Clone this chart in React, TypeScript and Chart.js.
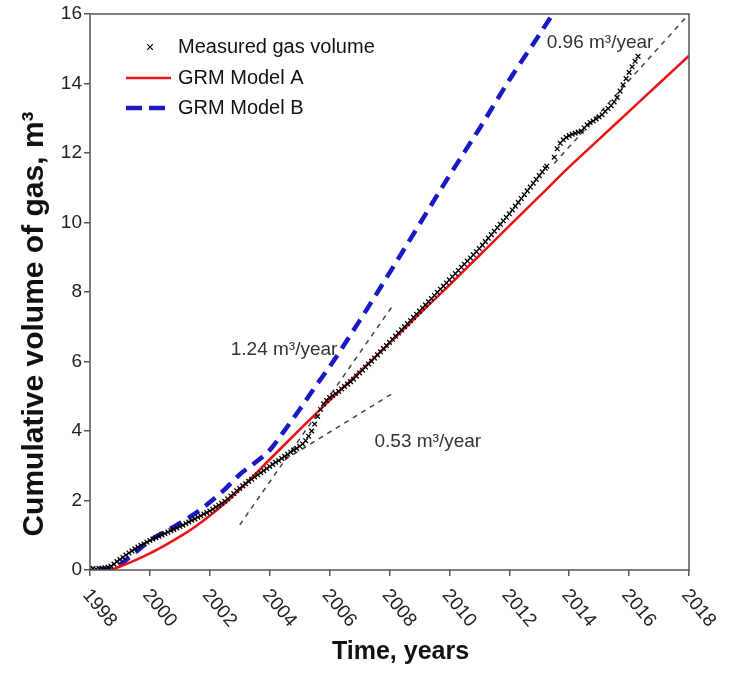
import { useEffect, useRef } from "react";
import { Chart, registerables } from "chart.js";

Chart.register(...registerables);

// ---------- data ----------
const measuredYears = [
  1998.0, 1998.1, 1998.2, 1998.3, 1998.4, 1998.5, 1998.6, 1998.7, 1998.8, 1998.9,
  1999.0, 1999.1, 1999.2, 1999.3, 1999.4, 1999.5, 1999.6, 1999.7, 1999.8, 1999.9,
  2000.0, 2000.1, 2000.2, 2000.3, 2000.4, 2000.5, 2000.6, 2000.7, 2000.8, 2000.9,
  2001.0, 2001.1, 2001.2, 2001.3, 2001.4, 2001.5, 2001.6, 2001.7, 2001.8, 2001.9,
  2002.0, 2002.1, 2002.2, 2002.3, 2002.4, 2002.5, 2002.6, 2002.7, 2002.8, 2002.9,
  2003.0, 2003.1, 2003.2, 2003.3, 2003.4, 2003.5, 2003.6, 2003.7, 2003.8, 2003.9,
  2004.0, 2004.1, 2004.2, 2004.3, 2004.4, 2004.5, 2004.6, 2004.7, 2004.8, 2004.9,
  2005.0, 2005.1, 2005.2, 2005.3, 2005.4, 2005.5, 2005.6, 2005.7, 2005.8, 2005.9,
  2006.0, 2006.1, 2006.2, 2006.3, 2006.4, 2006.5, 2006.6, 2006.7, 2006.8, 2006.9,
  2007.0, 2007.1, 2007.2, 2007.3, 2007.4, 2007.5, 2007.6, 2007.7, 2007.8, 2007.9,
  2008.0, 2008.1, 2008.2, 2008.3, 2008.4, 2008.5, 2008.6, 2008.7, 2008.8, 2008.9,
  2009.0, 2009.1, 2009.2, 2009.3, 2009.4, 2009.5, 2009.6, 2009.7, 2009.8, 2009.9,
  2010.0, 2010.1, 2010.2, 2010.3, 2010.4, 2010.5, 2010.6, 2010.7, 2010.8, 2010.9,
  2011.0, 2011.1, 2011.2, 2011.3, 2011.4, 2011.5, 2011.6, 2011.7, 2011.8, 2011.9,
  2012.0, 2012.1, 2012.2, 2012.3, 2012.4, 2012.5, 2012.6, 2012.7, 2012.8, 2012.9,
  2013.0, 2013.1, 2013.2, 2013.25,
  2013.5, 2013.6, 2013.7, 2013.8, 2013.9,
  2014.0, 2014.1, 2014.2, 2014.3, 2014.4, 2014.5, 2014.6, 2014.7, 2014.8, 2014.9,
  2015.0, 2015.1, 2015.2, 2015.3, 2015.4, 2015.5, 2015.6, 2015.7, 2015.8, 2015.9,
  2016.0, 2016.1, 2016.2, 2016.3,
];
const measuredVolume = [
  0.03, 0.04, 0.03, 0.05, 0.05, 0.06, 0.08, 0.11, 0.17, 0.24,
  0.30, 0.36, 0.43, 0.49, 0.55, 0.61, 0.66, 0.71, 0.75, 0.80,
  0.85, 0.89, 0.93, 0.97, 1.01, 1.05, 1.09, 1.13, 1.17, 1.21,
  1.25, 1.29, 1.34, 1.38, 1.43, 1.47, 1.52, 1.56, 1.61, 1.65,
  1.70, 1.75, 1.81, 1.86, 1.92, 1.98, 2.05, 2.13, 2.20, 2.28,
  2.35, 2.42, 2.48, 2.55, 2.61, 2.68, 2.74, 2.80, 2.86, 2.92,
  2.98, 3.04, 3.10, 3.15, 3.21, 3.27, 3.33, 3.39, 3.45, 3.50,
  3.56, 3.63, 3.72, 3.85, 4.00, 4.20, 4.42, 4.62, 4.78, 4.88,
  4.96, 5.02, 5.08, 5.14, 5.21, 5.28, 5.35, 5.42, 5.49, 5.58,
  5.67, 5.75, 5.84, 5.93, 6.01, 6.10, 6.19, 6.28, 6.37, 6.46,
  6.55, 6.64, 6.73, 6.82, 6.91, 7.00, 7.09, 7.18, 7.27, 7.36,
  7.45, 7.54, 7.63, 7.72, 7.81, 7.90, 7.99, 8.08, 8.17, 8.26,
  8.35, 8.44, 8.53, 8.62, 8.71, 8.80, 8.89, 8.98, 9.07, 9.16,
  9.25, 9.35, 9.45, 9.55, 9.65, 9.75, 9.85, 9.95, 10.05, 10.15,
  10.25, 10.36, 10.47, 10.58, 10.69, 10.80, 10.91, 11.02, 11.13, 11.24,
  11.35, 11.46, 11.56, 11.62,
  11.88, 12.12, 12.28, 12.38, 12.45,
  12.50, 12.54, 12.57, 12.60, 12.63, 12.72, 12.81, 12.88, 12.92, 12.98,
  13.04, 13.10, 13.20, 13.28, 13.36, 13.47, 13.60, 13.78, 13.96, 14.14,
  14.32, 14.48, 14.64, 14.78,
];

const modelAYears = [
  1998.7, 1999.0, 1999.5, 2000.0, 2000.5, 2001.0, 2001.5, 2002.0, 2002.5, 2003.0,
  2004.0, 2005.0, 2006.0, 2007.0, 2008.0, 2009.0, 2010.0, 2011.0, 2012.0, 2013.0,
  2014.0, 2015.0, 2016.0, 2017.0, 2018.0,
];
const modelAVolume = [
  0.0, 0.1, 0.28, 0.48, 0.71, 0.96, 1.24, 1.56, 1.92, 2.32,
  3.18, 4.04, 4.88, 5.7, 6.53, 7.37, 8.2, 9.05, 9.9, 10.75,
  11.6, 12.4, 13.2, 14.0, 14.8,
];

const modelBYears = [
  1998.3, 1998.8, 1999.0, 1999.5, 2000.0, 2000.5, 2001.0, 2001.5, 2002.0, 2002.5,
  2003.0, 2003.5, 2004.0, 2004.5, 2005.0, 2005.5, 2006.0, 2007.0, 2008.0, 2009.0,
  2010.0, 2011.0, 2012.0, 2013.0, 2013.6,
];
const modelBVolume = [
  0.0, 0.05, 0.15, 0.5, 0.85, 1.1, 1.35, 1.62, 1.95, 2.32,
  2.75, 3.08, 3.45, 4.02, 4.62, 5.25, 5.85, 7.17, 8.55, 9.95,
  11.35, 12.7, 14.1, 15.4, 16.2,
];

const trend124Years = [2003.0, 2008.1];
const trend124Volume = [1.3, 7.6];
const trend053Years = [2004.5, 2008.1];
const trend053Volume = [3.17, 5.08];
const trend096Years = [2013.5, 2018.0];
const trend096Volume = [11.7, 16.0];

const legendLabels = ["Measured gas volume", "GRM Model A", "GRM Model B"];
const rateLabels = ["1.24 m³/year", "0.53 m³/year", "0.96 m³/year"];
const rateLabelYears = [2002.7, 2007.5, 2013.25];
const rateLabelVolumes = [6.33, 3.69, 15.16];

const xTitle = "Time, years";
const yTitle = "Cumulative volume of gas, m³";

const xMin = 1998, xMax = 2018, xStep = 2;
const yMin = 0, yMax = 16, yStep = 2;

const FONT = "'Liberation Sans', Arial, Helvetica, sans-serif";

const pts = (xs: number[], ys: number[]) => xs.map((x, i) => ({ x, y: ys[i] }));

const decorPlugin = {
  id: "decor",
  afterDatasetsDraw(chart: any) {
    const ctx = chart.ctx;
    const xs = chart.scales.x;
    const ys = chart.scales.y;
    ctx.save();
    // rate annotations
    ctx.fillStyle = "#333";
    ctx.font = `19px ${FONT}`;
    ctx.textAlign = "left";
    ctx.textBaseline = "middle";
    rateLabels.forEach((t, i) => {
      ctx.fillText(t, xs.getPixelForValue(rateLabelYears[i]), ys.getPixelForValue(rateLabelVolumes[i]));
    });
    // legend
    const ds = chart.data.datasets;
    const lx0 = 126, lx1 = 171, tx = 178;
    const rows = [47, 78, 108];
    ctx.font = `20px ${FONT}`;
    ctx.fillStyle = "#111";
    legendLabels.forEach((t, i) => {
      const y = rows[i];
      ctx.fillText(t, tx, y);
      if (i === 0) {
        ctx.strokeStyle = ds[0].borderColor;
        ctx.lineWidth = 1.2;
        ctx.setLineDash([]);
        const cx = 150, r = 2.8;
        ctx.beginPath();
        ctx.moveTo(cx - r, y - r); ctx.lineTo(cx + r, y + r);
        ctx.moveTo(cx + r, y - r); ctx.lineTo(cx - r, y + r);
        ctx.stroke();
      } else {
        const d = ds[i];
        ctx.strokeStyle = d.borderColor;
        ctx.lineWidth = d.borderWidth;
        ctx.setLineDash(i === 2 ? [16, 7] : []);
        ctx.beginPath();
        ctx.moveTo(lx0, y); ctx.lineTo(lx1, y);
        ctx.stroke();
      }
    });
    ctx.restore();
  },
  afterDraw(chart: any) {
    const ctx = chart.ctx;
    const { left, right, top, bottom } = chart.chartArea;
    const xs = chart.scales.x;
    ctx.save();
    ctx.setLineDash([]);
    ctx.strokeStyle = "#555";
    ctx.lineWidth = 1.5;
    ctx.strokeRect(left, top, right - left, bottom - top);
    // rotated x tick labels
    ctx.fillStyle = "#222";
    ctx.font = `19px ${FONT}`;
    ctx.textAlign = "left";
    ctx.textBaseline = "middle";
    xs.ticks.forEach((t: any) => {
      const px = xs.getPixelForValue(t.value);
      ctx.save();
      ctx.translate(px - 4, bottom + 22);
      ctx.rotate((50 * Math.PI) / 180);
      ctx.fillText(String(t.value), 0, 0);
      ctx.restore();
    });
    // axis titles
    ctx.fillStyle = "#111";
    ctx.font = `bold 25px ${FONT}`;
    ctx.textAlign = "center";
    ctx.textBaseline = "middle";
    ctx.fillText(xTitle, (left + right) / 2 + 11, 652);
    ctx.save();
    ctx.translate(35, 324);
    ctx.rotate(-Math.PI / 2);
    ctx.font = `bold 30px ${FONT}`;
    ctx.fillText(yTitle, 0, 0);
    ctx.restore();
    ctx.restore();
  },
};

export default function App() {
  const ref = useRef<HTMLCanvasElement | null>(null);
  useEffect(() => {
    document.body.style.margin = "0";
    if (!ref.current) return;
    const trendStyle = {
      showLine: true,
      pointRadius: 0,
      borderColor: "#444",
      borderWidth: 1.5,
      borderDash: [5, 5],
      fill: false,
    };
    const chart = new Chart(ref.current, {
      type: "scatter",
      data: {
        datasets: [
          {
            label: legendLabels[0],
            data: pts(measuredYears, measuredVolume),
            pointStyle: "crossRot",
            pointRadius: 3.3,
            borderColor: "#000",
            backgroundColor: "#000",
            borderWidth: 1.3,
            showLine: false,
          },
          {
            label: legendLabels[1],
            data: pts(modelAYears, modelAVolume),
            showLine: true,
            pointRadius: 0,
            borderColor: "#ee1111",
            borderWidth: 2.5,
            cubicInterpolationMode: "monotone",
          },
          {
            label: legendLabels[2],
            data: pts(modelBYears, modelBVolume),
            showLine: true,
            pointRadius: 0,
            borderColor: "#1818c4",
            borderWidth: 4.5,
            borderDash: [13, 8],
            cubicInterpolationMode: "monotone",
          },
          { label: "t1", data: pts(trend124Years, trend124Volume), ...trendStyle },
          { label: "t2", data: pts(trend053Years, trend053Volume), ...trendStyle },
          { label: "t3", data: pts(trend096Years, trend096Volume), ...trendStyle },
        ] as any,
      },
      options: {
        animation: false,
        responsive: false,
        layout: { padding: { left: 0, right: 41, top: 14, bottom: 0 } },
        plugins: { legend: { display: false }, tooltip: { enabled: false } },
        scales: {
          x: {
            type: "linear",
            min: xMin,
            max: xMax,
            ticks: { display: false, stepSize: xStep },
            grid: { drawOnChartArea: false, drawTicks: true, tickLength: 6, color: "#555", lineWidth: 1.5 },
            border: { display: false },
            afterFit: (s: any) => { s.height = 118; },
          },
          y: {
            type: "linear",
            min: yMin,
            max: yMax,
            ticks: {
              stepSize: yStep,
              padding: 2,
              color: "#222",
              font: { family: FONT, size: 19 },
            },
            grid: { drawOnChartArea: false, drawTicks: true, tickLength: 6, color: "#555", lineWidth: 1.5 },
            border: { display: false },
            afterFit: (s: any) => { s.width = 90; },
          },
        },
      } as any,
      plugins: [decorPlugin],
    });
    return () => chart.destroy();
  }, []);
  return (
    <div style={{ width: 730, height: 688 }}>
      <canvas ref={ref} width={730} height={688} />
    </div>
  );
}
